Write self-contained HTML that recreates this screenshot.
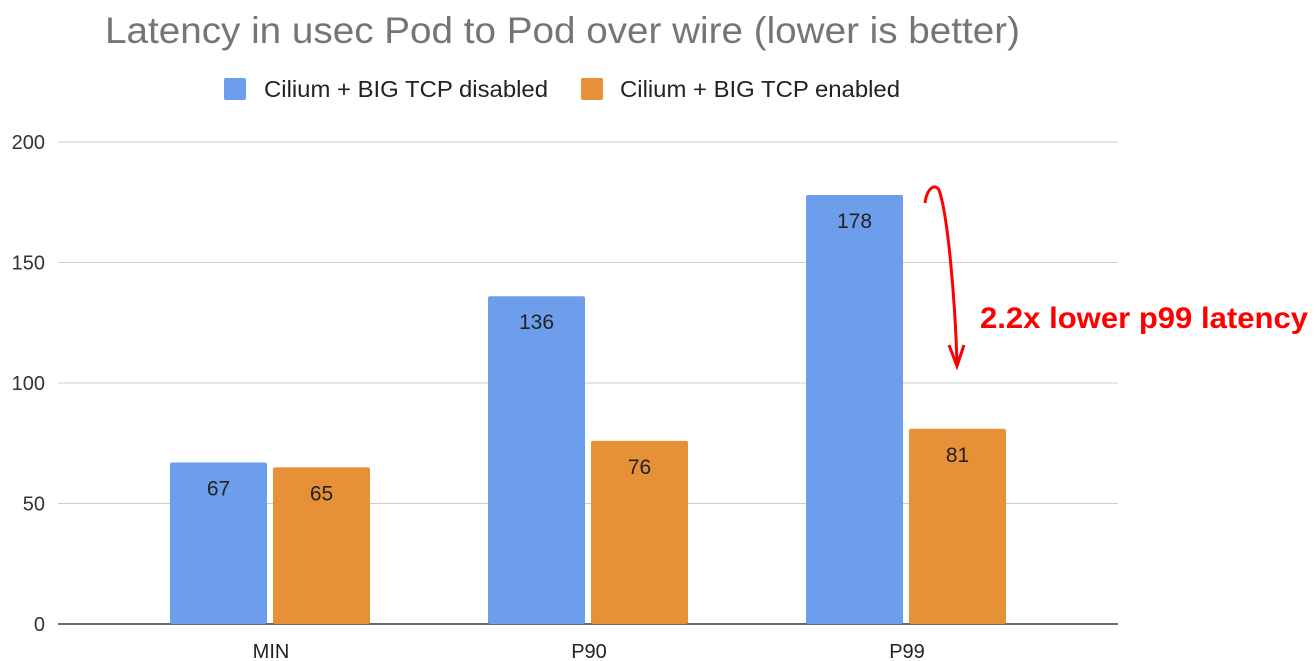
<!DOCTYPE html>
<html><head><meta charset="utf-8"><style>
html,body{margin:0;padding:0;background:#fff;}
svg{display:block;font-family:"Liberation Sans",Arial,sans-serif;}
</style></head><body>
<svg id="chart" width="1316" height="661" viewBox="0 0 1316 661">
<text x="105" y="43" font-size="37" fill="#757575" textLength="915" lengthAdjust="spacingAndGlyphs">Latency in usec Pod to Pod over wire (lower is better)</text>
<g>
<g><rect x="224" y="78" width="22" height="22" rx="2" fill="#6d9eeb"/><text x="264" y="97" font-size="23" fill="#222" textLength="284" lengthAdjust="spacingAndGlyphs">Cilium + BIG TCP disabled</text></g>
<g><rect x="581" y="78" width="22" height="22" rx="2" fill="#e69138"/><text x="620" y="97" font-size="23" fill="#222" textLength="280" lengthAdjust="spacingAndGlyphs">Cilium + BIG TCP enabled</text></g>
</g>
<g id="grid"></g><g id="bars"></g><g id="xlabels"></g>
<g>
<path d="M925,203 C927,188 935,183 939,190 C948,215 955,300 957,362" fill="none" stroke="#ff0000" stroke-width="3"/>
<path d="M949,345 L957,366 L964,345" fill="none" stroke="#ff0000" stroke-width="3"/>
<text x="980" y="328" font-size="30" font-weight="bold" fill="#ff0000" textLength="328" lengthAdjust="spacingAndGlyphs">2.2x lower p99 latency</text>
</g>
</svg>
<script>
const categories = ["MIN","P90","P99"];
const disabledValues = [67,136,178];
const enabledValues = [65,76,81];
const yTicks = [0,50,100,150,200];
const NS="http://www.w3.org/2000/svg";
const y = v => 624 - v*(624-142)/200;
const xc = i => 270 + i*318;
const grid=document.getElementById('grid'),bars=document.getElementById('bars'),xl=document.getElementById('xlabels');
function mk(tag,attrs,parent,text){const e=document.createElementNS(NS,tag);for(const k in attrs)e.setAttribute(k,attrs[k]);if(text!=null)e.textContent=text;parent.appendChild(e);return e;}
yTicks.forEach(t=>{
  const l=mk('line',{x1:58,x2:1118,y1:y(t),y2:y(t),stroke:t===0?'#333':'#ccc','stroke-width':t===0?1.5:1},grid);
  
  
  const tx=mk('text',{x:45,y:y(t)+7,'text-anchor':'end','font-size':20,fill:'#333'},grid,String(t));
  
  
});
categories.forEach((c,i)=>{
  [[disabledValues,'#6d9eeb',-100,'disabled'],[enabledValues,'#e69138',3,'enabled']].forEach(([arr,col,off,nm])=>{
    const v=arr[i];
    const r=mk('rect',{x:xc(i)+off,y:y(v),width:97,height:624-y(v),fill:col,rx:2},bars);
    
    
    const t=mk('text',{x:xc(i)+off+48.5,y:y(v)+33,'text-anchor':'middle','font-size':21,fill:'#222'},bars,String(v));
    
    
  });
  const t=mk('text',{x:xc(i)+1,y:658,'text-anchor':'middle','font-size':20,fill:'#222'},xl,c);
  
  
});
</script>
</body></html>
